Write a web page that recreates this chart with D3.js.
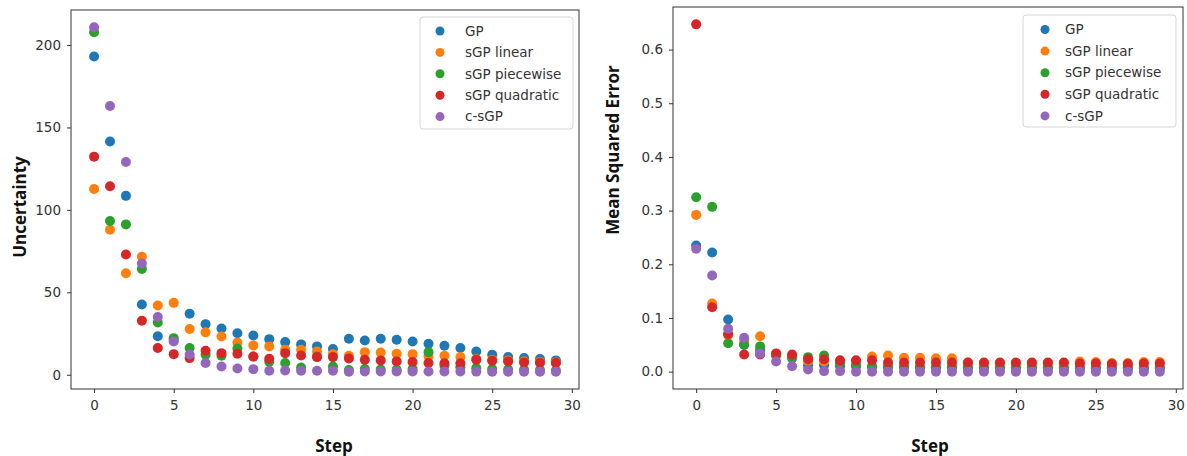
<!DOCTYPE html>
<html>
<head>
<meta charset="utf-8">
<script src="https://cdnjs.cloudflare.com/ajax/libs/d3/7.8.5/d3.min.js"></script>
<style>
    body { margin: 0; background: #fff; }
    .tick text { font-family: "DejaVu Sans", sans-serif; font-size: 13.5px; fill: #333; }
    .axis path, .axis line { stroke: #333; }
    .title { font-family: "Open Sans", sans-serif; font-weight: bold; font-size: 17px; fill: #111; }
    .legend text { font-family: "DejaVu Sans", sans-serif; font-size: 13.5px; fill: #333; }
</style>
</head>
<body>
<svg id="chart" width="1187" height="456"></svg>
<script>
var steps = d3.range(0, 30);
var seriesNames = ["GP", "sGP linear", "sGP piecewise", "sGP quadratic", "c-sGP"];
var colors = ["#1f77b4", "#ff7f0e", "#2ca02c", "#d62728", "#9467bd"];
var xTicks = [0, 5, 10, 15, 20, 25, 30];
var uncTicks = [0, 50, 100, 150, 200];
var mseTicks = [0.0, 0.1, 0.2, 0.3, 0.4, 0.5, 0.6];

// uncertainty per step
var gpUnc = [193, 141.5, 108.5, 42.6, 23.4, 21, 37, 30.7, 28, 25.2, 23.8, 21.6, 19.8, 18.4, 17.2, 15.6, 21.8, 20.8, 21.8, 21.2, 20.2, 18.8, 17.6, 16.2, 14.1, 12.1, 10.7, 10.1, 9.5, 8.7];
var linUnc = [112.7, 87.9, 61.6, 71.5, 42, 43.6, 27.7, 25.7, 23.2, 19.6, 17.8, 17.2, 15.2, 15.2, 14.1, 12.5, 11.5, 13.7, 13.5, 12.7, 12.5, 11.1, 11.5, 10.7, 9.5, 9.0, 8.6, 8.2, 7.8, 7.5];
var pwUnc = [207.7, 93.3, 91.2, 64.2, 31.7, 22.2, 16.2, 12.1, 11.5, 15.9, 11, 7.9, 7.1, 4.4, 11, 5.0, 2.8, 3.5, 3.2, 3.0, 3.4, 13.7, 5.5, 4.5, 4.0, 3.5, 3.2, 3.0, 2.8, 2.6];
var quadUnc = [132.3, 114.3, 72.9, 32.7, 16.2, 12.5, 10.1, 14.5, 13.1, 12.7, 11.1, 9.7, 13.1, 11.7, 10.7, 10.7, 9.9, 9.1, 8.7, 8.1, 7.7, 7.1, 6.9, 6.9, 9.1, 8.5, 8.1, 7.5, 7.3, 7.1];
var csgpUnc = [210.8, 163, 129, 67.5, 35, 20.2, 12.3, 7.1, 5, 3.8, 3.4, 2.4, 2.6, 2.4, 2.4, 2.4, 1.8, 2.0, 2.0, 2.0, 2.0, 2.0, 2.0, 2.0, 1.9, 1.8, 1.8, 1.8, 1.8, 1.8];

// mean squared error per step
var gpMse = [0.235, 0.222, 0.097, 0.050, 0.040, 0.033, 0.025, 0.012, 0.012, 0.010, 0.010, 0.010, 0.009, 0.009, 0.008, 0.008, 0.008, 0.007, 0.007, 0.007, 0.007, 0.007, 0.007, 0.006, 0.006, 0.006, 0.006, 0.006, 0.006, 0.006];
var linMse = [0.292, 0.127, 0.068, 0.057, 0.066, 0.030, 0.028, 0.020, 0.019, 0.018, 0.019, 0.028, 0.030, 0.026, 0.026, 0.025, 0.025, 0.017, 0.016, 0.016, 0.016, 0.016, 0.016, 0.016, 0.019, 0.018, 0.016, 0.016, 0.018, 0.018];
var pwMse = [0.325, 0.307, 0.053, 0.050, 0.047, 0.030, 0.028, 0.027, 0.030, 0.015, 0.012, 0.008, 0.008, 0.008, 0.008, 0.008, 0.008, 0.008, 0.008, 0.008, 0.008, 0.008, 0.008, 0.008, 0.008, 0.008, 0.008, 0.008, 0.008, 0.008];
var quadMse = [0.647, 0.120, 0.070, 0.032, 0.032, 0.034, 0.032, 0.023, 0.023, 0.021, 0.021, 0.021, 0.017, 0.017, 0.017, 0.017, 0.017, 0.017, 0.017, 0.017, 0.017, 0.017, 0.017, 0.017, 0.015, 0.015, 0.014, 0.014, 0.015, 0.015];
var csgpMse = [0.229, 0.179, 0.080, 0.063, 0.034, 0.019, 0.010, 0.004, 0.001, 0.001, 0.0, 0.0, 0.0, 0.0, 0.0, 0.0, 0.0, 0.0, 0.0, 0.0, 0.0, 0.0, 0.0, 0.0, 0.0, 0.0, 0.0, 0.0, 0.0, 0.0];

var svg = d3.select("#chart");

function padded(lo, hi) {
    var m = (hi - lo) * 0.05;
    return [lo - m, hi + m];
}

function drawPanel(p) {
    var x = d3.scaleLinear()
        .domain(padded(0, 29))
        .range([p.left, p.right]);

    var all = d3.merge(p.series);
    var y = d3.scaleLinear()
        .domain(padded(d3.min(all), d3.max(all)))
        .range([p.bottom, p.top]);

    var xAxis = d3.axisBottom(x).tickValues(xTicks).tickSize(4).tickPadding(7);
    var yAxis = d3.axisLeft(y).tickValues(p.yTicks).tickSize(4).tickPadding(6).tickFormat(p.fmt);

    svg.append("g")
        .attr("class", "x axis")
        .attr("transform", "translate(0," + p.bottom + ")")
        .call(xAxis)
        .call(function(g) { g.select(".domain").remove(); });

    svg.append("g")
        .attr("class", "y axis")
        .attr("transform", "translate(" + p.left + ",0)")
        .call(yAxis)
        .call(function(g) { g.select(".domain").remove(); });

    p.series.forEach(function(vals, i) {
        svg.append("g").selectAll("circle")
            .data(vals)
        .enter().append("circle")
            .attr("cx", function(d, j) { return x(steps[j]); })
            .attr("cy", function(d) { return y(d); })
            .attr("r", 5)
            .attr("fill", colors[i]);
    });

    svg.append("rect")
        .attr("x", p.left)
        .attr("y", p.top)
        .attr("width", p.right - p.left)
        .attr("height", p.bottom - p.top)
        .attr("fill", "none")
        .attr("stroke", "#333")
        .attr("stroke-width", 1);

    var lg = svg.append("g").attr("class", "legend");
    lg.append("rect")
        .attr("x", p.legend.x)
        .attr("y", p.legend.y)
        .attr("width", p.legend.w)
        .attr("height", p.legend.h)
        .attr("rx", 3)
        .attr("fill", "#fff")
        .attr("fill-opacity", 0.8)
        .attr("stroke", "#d6d6d6");

    seriesNames.forEach(function(name, i) {
        var cy = p.legend.row0 + i * p.legend.gap;
        lg.append("circle")
            .attr("cx", p.legend.mx)
            .attr("cy", cy)
            .attr("r", 4.5)
            .attr("fill", colors[i]);
        lg.append("text")
            .attr("x", p.legend.tx)
            .attr("y", cy)
            .attr("dy", "0.35em")
            .text(name);
    });

    svg.append("text")
        .attr("class", "title")
        .attr("text-anchor", "middle")
        .attr("x", p.xTitleX)
        .attr("y", 452)
        .text("Step");

    svg.append("text")
        .attr("class", "title")
        .attr("text-anchor", "middle")
        .attr("transform", "translate(" + p.yTitle.x + "," + p.yTitle.y + ") rotate(-90)")
        .attr("dy", "0.35em")
        .text(p.yTitle.text);
}

drawPanel({
    left: 71, right: 579, top: 10, bottom: 389,
    series: [gpUnc, linUnc, pwUnc, quadUnc, csgpUnc],
    yTicks: uncTicks,
    fmt: d3.format("d"),
    legend: { x: 420, y: 17, w: 153, h: 112, mx: 440, tx: 465, row0: 31, gap: 21.4 },
    xTitleX: 334,
    yTitle: { x: 20, y: 207, text: "Uncertainty" }
});

drawPanel({
    left: 673, right: 1183, top: 7, bottom: 389,
    series: [gpMse, linMse, pwMse, quadMse, csgpMse],
    yTicks: mseTicks,
    fmt: d3.format(".1f"),
    legend: { x: 1023, y: 15, w: 153, h: 112, mx: 1045, tx: 1065, row0: 29.5, gap: 21.6 },
    xTitleX: 930,
    yTitle: { x: 613, y: 150, text: "Mean Squared Error" }
});
</script>
</body>
</html>
